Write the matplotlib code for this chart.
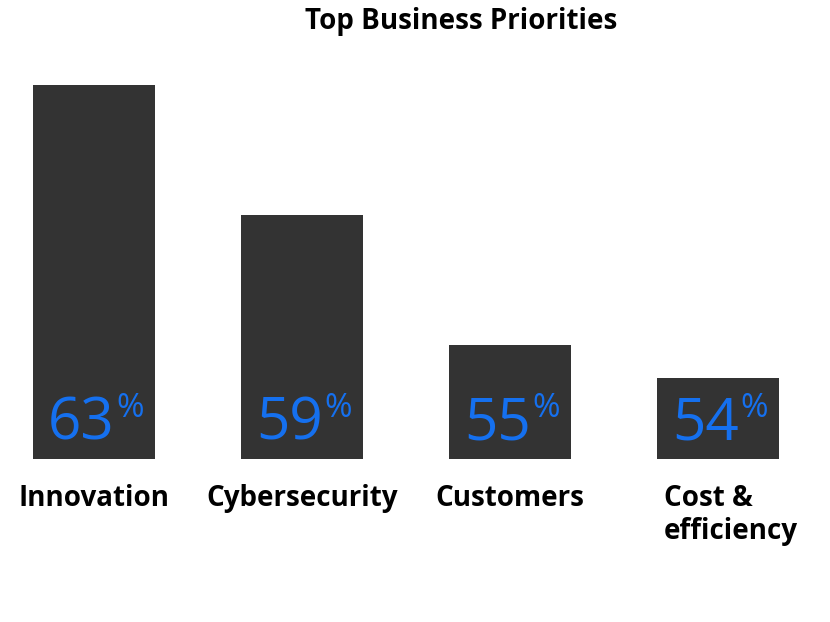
import matplotlib
matplotlib.use("Agg")
import matplotlib.pyplot as plt

categories = ["Innovation", "Cybersecurity", "Customers", "Cost &\nefficiency"]
values = [63, 59, 55, 54]
title = "Top Business Priorities"

plt.rcParams['font.family'] = ['Open Sans', 'DejaVu Sans']

fig = plt.figure(figsize=(8.3, 6.22), dpi=100)
ax = fig.add_axes([0, (622 - 459) / 622, 1, (459 - 60) / 622])
x = list(range(len(categories)))
ax.bar(x, values, width=0.587, color="#333333", bottom=0)
ax.set_xlim(-0.452, 3.538)
ax.set_ylim(51.5, 63.777)
for s in ax.spines.values():
    s.set_visible(False)
ax.set_xticks([])
ax.set_yticks([])

for xi, v in zip(x, values):
    ax.annotate(f"{v}", xy=(xi, 51.5), xytext=(15, 14.4), textcoords="offset points",
                ha="right", va="baseline", fontsize=42, color="#1570EF")
    ax.annotate("%", xy=(xi, 51.5), xytext=(16, 30), textcoords="offset points",
                ha="left", va="baseline", fontsize=24, color="#1570EF")

label_dx = [0, 0, 0, 9]
for xi, c, dx in zip(x, categories, label_dx):
    ax.annotate(c, xy=(xi, 51.5), xytext=(dx, -18), textcoords="offset points",
                ha="center", va="top", multialignment="left",
                fontsize=20, fontweight="bold", color="black", linespacing=1.2)

fig.text(461 / 830, 1 - 7 / 622, title, ha="center", va="top",
         fontsize=20, fontweight="bold", color="black")

fig.savefig("out.png", dpi=100)
